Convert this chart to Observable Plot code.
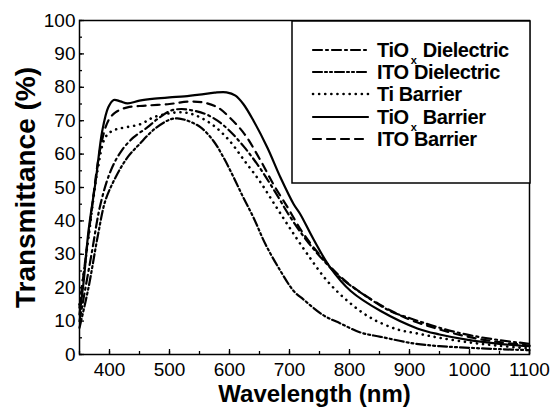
<!DOCTYPE html>
<html><head><meta charset="utf-8">
<script src="https://cdn.jsdelivr.net/npm/d3@7"></script>
<script src="https://cdn.jsdelivr.net/npm/@observablehq/plot@0.6"></script>
<style>
body{margin:0;background:#fff;}
#chart{width:553px;height:411px;}
</style></head><body><div id="chart"></div>
<script>
// ---- data ----
const seriesNames = ["TiOx Dielectric", "ITO Dielectric", "Ti Barrier", "TiOx Barrier", "ITO Barrier"];

const tioxDielWl = [350,370,385,402,420,440,463,480,502,520,540,560,580,600,625,650,675,700,725,750,785,823,868,902,950,1000,1050,1100];
const tioxDielT  = [10,30,45,55,61,65,68,70.5,73,73.5,73,72,70,67,62,56,49,41.5,35,29.5,23,18,13,10.8,8,5.8,4.3,3.2];

const itoDielWl = [350,365,381,393,410,430,450,475,500,513,530,552,573,590,607,623,640,660,685,707,723,757,785,818,852,907,950,1000,1050,1100];
const itoDielT  = [8,20,36,46,53,59,63,67.5,70.3,70.7,70,68,64,59,53,47,41,33,25,19,16.5,11.7,9.3,6.6,5.3,3.3,2.5,2,1.6,1.3];

const tiBarWl = [350,365,380,393,405,418,452,473,500,523,545,573,600,625,650,675,700,730,763,797,835,880,913,950,1000,1050,1100];
const tiBarT  = [15,35,55,65,67,67.7,69,71,72.2,72.5,71.5,68.6,64,58,52,45,38,30,22,16,11,7.5,6.3,5,3.6,2.6,1.8];

const tioxBarWl = [350,357,365,377,388,398,407,418,430,450,475,500,525,550,575,595,610,623,640,663,685,707,718,740,768,802,852,913,950,1000,1050,1100];
const tioxBarT  = [12,22,37,52,67,74,76.2,75.8,75.2,76,76.6,77,77.3,77.8,78.4,78.5,77.5,75,70,62,53,45,42,34.5,26,19,13,7.8,6,4.3,3.2,2.5];

const itoBarWl = [350,368,385,398,410,430,460,500,530,555,580,600,625,652,673,697,720,745,775,800,850,900,950,1000,1050,1100];
const itoBarT  = [14,40,62,70,72.5,74,74.5,75,75.7,75.5,74,71,66,58,51,44,37,31,25,21,15,10.5,7.5,5.2,3.7,2.7];

const xTicks = [400,500,600,700,800,900,1000,1100];
const xMinor = [350,400,450,500,550,600,650,700,750,800,850,900,950,1000,1050,1100];
const yTicks = [0,10,20,30,40,50,60,70,80,90,100];
const yMinor = [0,5,10,15,20,25,30,35,40,45,50,55,60,65,70,75,80,85,90,95,100];

// ---- styles ----
const dashes = ["9,4,2,4", "9,3,2,3,2,3", "0.1,6", null, "8,6"];
const wls = [tioxDielWl, itoDielWl, tiBarWl, tioxBarWl, itoBarWl];
const ts  = [tioxDielT, itoDielT, tiBarT, tioxBarT, itoBarT];

const lineMarks = seriesNames.map((name, i) => {
  const rows = wls[i].map((w, j) => ({wl: w, t: ts[i][j]}));
  return Plot.line(rows, {
    x: "wl", y: "t", stroke: "black", strokeWidth: i === 2 ? 2.6 : 2.2,
    strokeDasharray: dashes[i] || undefined, strokeLinecap: "round",
    curve: "catmull-rom"
  });
});

const fmt = d3.format("d");

const plot = Plot.plot({
  width: 553, height: 411,
  marginLeft: 79, marginRight: 24, marginTop: 20, marginBottom: 57,
  style: "font-family: 'Liberation Sans', Arial, sans-serif; font-size: 19px; background: white; color: black;",
  x: {domain: [350, 1100], label: null},
  y: {domain: [0, 100], label: null},
  marks: [
    Plot.axisX({ticks: xMinor, tickSize: -3, tickFormat: () => "", strokeWidth: 1.3, label: null}),
    Plot.axisX({ticks: xTicks, tickSize: -5, tickPadding: 13, tickFormat: fmt, strokeWidth: 1.3, label: null}),
    Plot.axisY({ticks: yMinor, tickSize: -3, tickFormat: () => "", strokeWidth: 1.3, label: null}),
    Plot.axisY({ticks: yTicks, tickSize: -5, tickPadding: 9, tickFormat: fmt, strokeWidth: 1.3, label: null}),
    ...lineMarks,
    Plot.frame({strokeWidth: 1.5}),
    Plot.text(["Wavelength (nm)"], {frameAnchor: "bottom", textAnchor: "middle", lineAnchor: "middle", dx: 10, dy: 40, fontSize: 24, fontWeight: "bold"}),
    Plot.text(["Transmittance (%)"], {frameAnchor: "left", textAnchor: "middle", lineAnchor: "middle", dx: -53, rotate: -90, fontSize: 28, fontWeight: "bold"})
  ]
});

document.getElementById("chart").appendChild(plot);

// ---- legend box inside the plot ----
const svg = d3.select(plot);
const lg = svg.append("g").attr("font-family", "'Liberation Sans', Arial, sans-serif").attr("text-anchor", "start");
lg.append("rect").attr("x", 292).attr("y", 21).attr("width", 238).attr("height", 162)
  .attr("fill", "white").attr("stroke", "black").attr("stroke-width", 1.5);
const rowY = [57, 79, 101, 124, 146];
function addText(x, y, s, size) {
  const t = lg.append("text").attr("x", x).attr("y", y).attr("text-anchor", "start")
    .attr("font-size", size).attr("font-weight", "bold").attr("letter-spacing", -0.4).text(s);
  const b = t.node().getBBox();
  return b.x + b.width;
}
seriesNames.forEach((name, i) => {
  const y = rowY[i] - 7;
  const ln = lg.append("line").attr("x1", 313).attr("x2", 368).attr("y1", y).attr("y2", y)
    .attr("stroke", "black").attr("stroke-width", i === 2 ? 2.6 : 2.2).attr("stroke-linecap", "round");
  if (dashes[i]) ln.attr("stroke-dasharray", dashes[i]);
  if (name.startsWith("TiOx")) {
    let x = addText(377, rowY[i], "TiO", 20);
    x = addText(x + 2, rowY[i] + 7, "x", 11);
    addText(x + 5, rowY[i], name.slice(5), 20);
  } else {
    addText(377, rowY[i], name, 20);
  }
});
</script>
</body></html>
